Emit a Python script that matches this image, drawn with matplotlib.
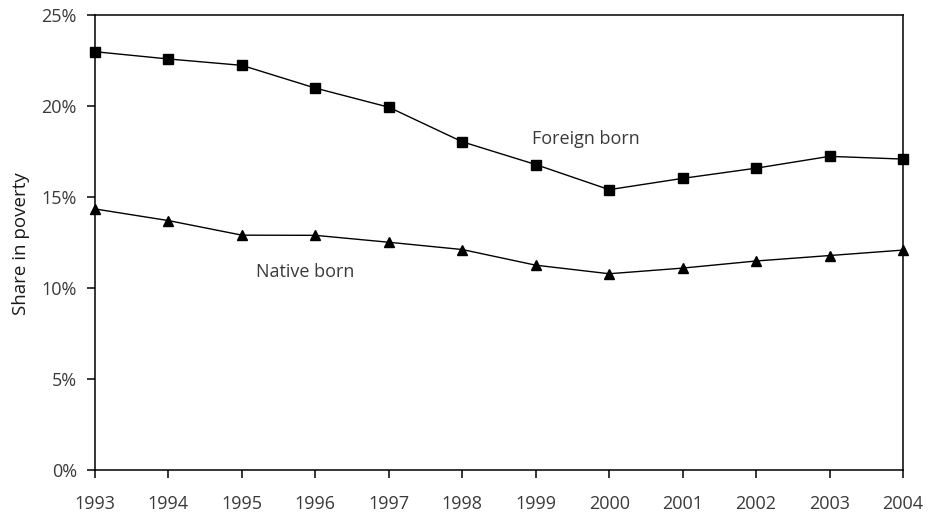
import matplotlib
matplotlib.use("Agg")
import matplotlib.pyplot as plt
from matplotlib.ticker import FuncFormatter

years = [1993, 1994, 1995, 1996, 1997, 1998, 1999, 2000, 2001, 2002, 2003, 2004]
foreign_born = [23.0, 22.6, 22.25, 21.0, 19.95, 18.05, 16.8, 15.42, 16.04, 16.6, 17.25, 17.1]
native_born = [14.36, 13.72, 12.92, 12.91, 12.53, 12.13, 11.27, 10.8, 11.11, 11.5, 11.8, 12.1]
y_ticks = [0, 5, 10, 15, 20, 25]

plt.rcParams['font.family'] = ['Open Sans', 'DejaVu Sans']

fig = plt.figure(figsize=(9.3, 5.16), dpi=100)
ax = fig.add_axes([95/930, 1-470.3/516, (903-95)/930, (470.3-15.3)/516])

ax.plot(years, foreign_born, color='black', lw=1.0, marker='s', markersize=6.8, zorder=3,
        clip_on=False)
ax.plot(years, native_born, color='black', lw=1.0, marker='^', markersize=7.2, zorder=3,
        clip_on=False)

ax.set_xlim(1993, 2004)
ax.set_ylim(0, 25)
ax.set_xticks(years)
ax.set_yticks(y_ticks)
ax.yaxis.set_major_formatter(FuncFormatter(lambda v, p: f"{v:.0f}%"))

for s in ax.spines.values():
    s.set_linewidth(1.1)
    s.set_color('black')
ax.tick_params(axis='both', direction='out', length=6, width=1.1, color='black',
               labelsize=13, labelcolor='#3a3a3a')
ax.tick_params(axis='x', pad=12)
ax.tick_params(axis='y', pad=7)

fig.text(21/930, 1-243.5/516, 'Share in poverty', fontsize=13.5, color='#1a1a1a',
         rotation=90, ha='center', va='center')

ax.text(1999.68, 18.2, 'Foreign born', fontsize=13, color='#3a3a3a', ha='center', va='center')
ax.text(1995.86, 10.9, 'Native born', fontsize=13, color='#3a3a3a', ha='center', va='center')

fig.savefig('out.png', dpi=100)
